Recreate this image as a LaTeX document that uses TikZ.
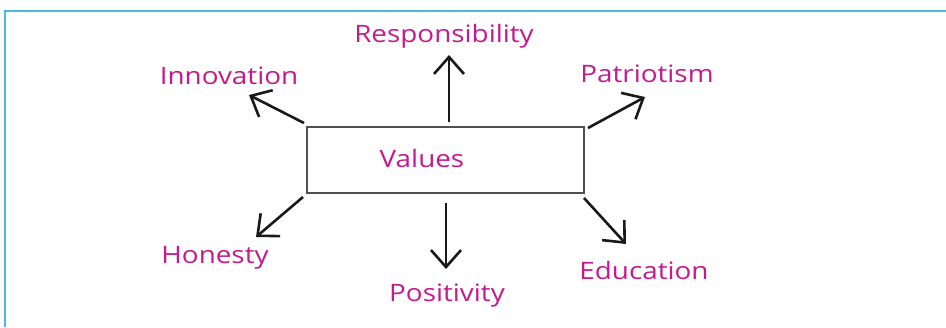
\documentclass[tikz,border=0pt]{standalone}
\usepackage{fontspec}
\setmainfont[FakeStretch=1.16]{Open Sans}
\usetikzlibrary{arrows.meta}
\definecolor{mag}{RGB}{196,26,140}
\definecolor{frameblue}{RGB}{70,185,230}
\definecolor{boxgray}{RGB}{80,80,80}
\begin{document}
\begin{tikzpicture}[x=1pt,y=-1pt,
  lbl/.style={text=mag,font=\fontsize{24}{28}\selectfont,inner sep=0pt,anchor=center},
  arr/.style={draw=black!90,line width=2.6pt,-{Straight Barb[length=17pt,width=30pt,line width=2.6pt]}},
  valbox/.style={draw=boxgray,line width=1.4pt,minimum width=277pt,minimum height=66pt,inner sep=0pt}]
\useasboundingbox (0,0) rectangle (946,327);
\draw[frameblue,line width=2pt] (946,11) -- (5,11) -- (5,327);
\node[valbox] (box) at (445.5,160) {};
\node[lbl] (values) at (422,158) {Values};
\node[lbl] (resp) at (444,36) {Responsibility};
\node[lbl] (inno) at (229,76) {Innovation};
\node[lbl] (patr) at (647,74) {Patriotism};
\node[lbl] (hone) at (215,258) {Honesty};
\node[lbl] (posi) at (447,296) {Positivity};
\node[lbl] (educ) at (644,270) {Education};
\coordinate (tU) at (449,55);
\coordinate (tD) at (446,269);
\coordinate (tI) at (249,95);
\coordinate (tP) at (645,97);
\coordinate (tH) at (256,237);
\coordinate (tE) at (626,244);
\draw[arr] (449,122) -- (tU);
\draw[arr] (446,203) -- (tD);
\draw[arr] (304,123) -- (tI);
\draw[arr] (588,128) -- (tP);
\draw[arr] (303,197) -- (tH);
\draw[arr] (584,198) -- (tE);
\end{tikzpicture}
\end{document}
